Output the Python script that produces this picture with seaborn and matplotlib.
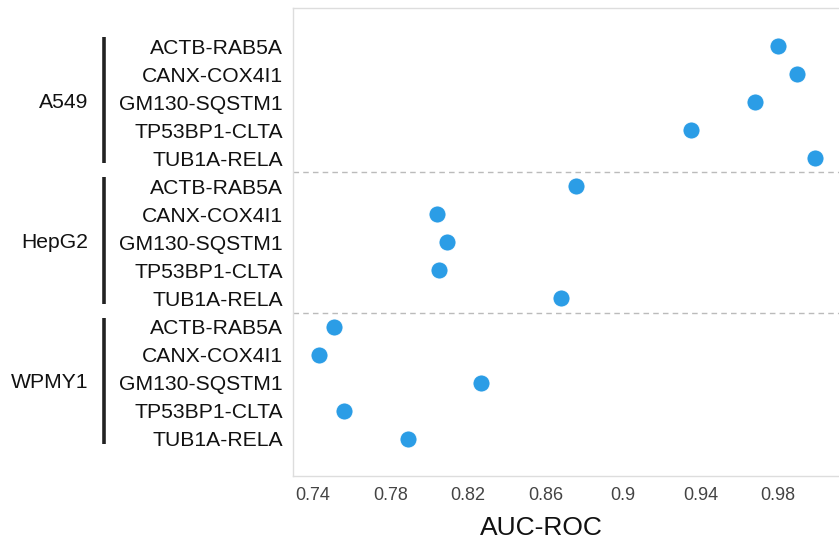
import numpy as np
import pandas as pd
import matplotlib
matplotlib.use("Agg")
import matplotlib.pyplot as plt
import matplotlib.transforms as mtransforms
import seaborn as sns

cell_lines = ["A549", "HepG2", "WPMY1"]
gene_pairs = ["ACTB-RAB5A", "CANX-COX4I1", "GM130-SQSTM1", "TP53BP1-CLTA", "TUB1A-RELA"]
auc_a549 = [0.980, 0.990, 0.968, 0.935, 0.999]
auc_hepg2 = [0.876, 0.804, 0.809, 0.805, 0.868]
auc_wpmy1 = [0.751, 0.743, 0.827, 0.756, 0.789]
x_ticks = [0.74, 0.78, 0.82, 0.86, 0.9, 0.94, 0.98]

# one row per (cell line, gene pair), top to bottom
rows = []
for ci, (cell, vals) in enumerate(zip(cell_lines, [auc_a549, auc_hepg2, auc_wpmy1])):
    for gi, (gene, v) in enumerate(zip(gene_pairs, vals)):
        rows.append({"cell": cell, "gene": gene, "auc": v, "row": ci * len(gene_pairs) + gi})
df = pd.DataFrame(rows)

sns.set_style("white")
plt.rcParams["font.family"] = ["Liberation Sans", "DejaVu Sans"]

fig = plt.figure(figsize=(8.39, 5.42), dpi=100)
ax = fig.add_axes([0.349, 0.1218, 0.651, 0.8635])

sns.scatterplot(data=df, x="auc", y="row", ax=ax, color="#2b9de6", s=150,
                edgecolor="white", linewidth=0.6, zorder=3, legend=False)

n = len(df)
ax.set_ylim(n - 1 + 1.33, -1.36)
ax.set_xlim(0.7297, 1.0115)
ax.set_yticks(df["row"])
ax.set_yticklabels(df["gene"], fontsize=15.2, color="#111111")
ax.set_xticks(x_ticks)
ax.set_xticklabels([f"{t:g}" for t in x_ticks], fontsize=13, color="#444444")
ax.tick_params(axis="y", length=3, color="#cccccc", pad=4)
ax.tick_params(axis="x", length=0, pad=8)
ax.set_ylabel("")
ax.set_xlabel("AUC-ROC", fontsize=19, color="#111111")
ax.xaxis.set_label_coords((541 - 293) / 546, -0.085)

for side in ["left", "top", "bottom"]:
    ax.spines[side].set_color("#dddddd")
    ax.spines[side].set_linewidth(1)
ax.spines["right"].set_visible(False)

# dashed separators between cell lines
for k in range(1, len(cell_lines)):
    ax.axhline(k * len(gene_pairs) - 0.5, color="#bbbbbb", linestyle=(0, (4, 3)),
               linewidth=1, zorder=1)

# group brackets and labels
trans = mtransforms.blended_transform_factory(fig.transFigure, ax.transData)
for ci, cell in enumerate(cell_lines):
    y0 = ci * len(gene_pairs)
    ax.plot([104 / 839, 104 / 839], [y0 - 0.32, y0 + len(gene_pairs) - 1 + 0.18],
            transform=trans, color="#222222", linewidth=2.6, clip_on=False,
            solid_capstyle="butt")
    ax.text(88 / 839, y0 + 2, cell, transform=trans, ha="right", va="center",
            fontsize=15.2, color="#111111")

fig.savefig("out.png", dpi=100)
